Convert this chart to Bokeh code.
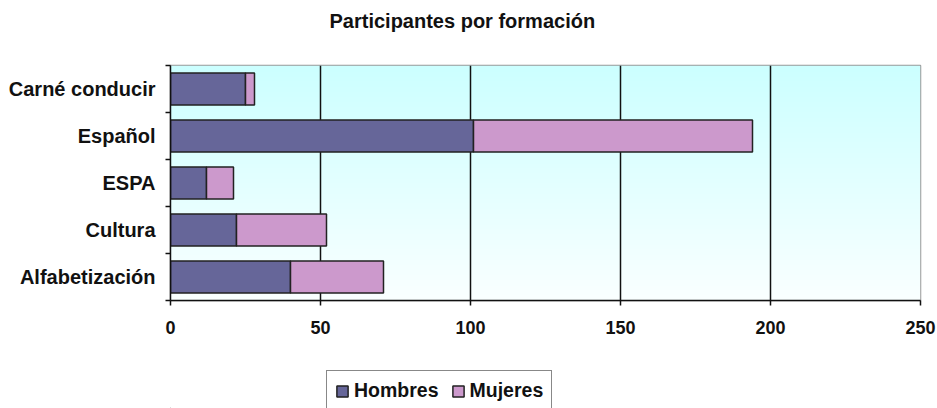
import numpy as np
from bokeh.plotting import figure
from bokeh.layouts import column
from bokeh.models import (ColumnDataSource, FactorRange, Range1d, LinearAxis, CategoricalAxis,
                          FixedTicker, Legend, LegendItem, Title)
from bokeh.embed import file_html
from bokeh.resources import INLINE

# ---- data ----
categories = ["Alfabetización", "Cultura", "ESPA", "Español", "Carné conducir"]
hombres = [40, 22, 12, 101, 25]
mujeres = [31, 30, 9, 93, 3]
series = ["Hombres", "Mujeres"]
colors = ["#666699", "#CC99CC"]
x_ticks = [0, 50, 100, 150, 200, 250]
title_text = "Participantes por formación"

FONT = "Liberation Sans"
INK = "#111111"
BAR_LINE = "#222222"


def blank_figure(height):
    f = figure(width=937, height=height, output_backend="svg", toolbar_location=None,
               x_axis_location=None, y_axis_location=None, x_range=Range1d(0, 1), y_range=Range1d(0, 1),
               min_border_left=0, min_border_right=0, min_border_top=0, min_border_bottom=0)
    f.outline_line_color = None
    f.xgrid.visible = False
    f.ygrid.visible = False
    return f


# ---- title strip ----
tf = blank_figure(40)
tf.title = Title(text=title_text, align="left", offset=159, standoff=14,
                 text_font=FONT, text_font_size="20px", text_font_style="bold", text_color=INK)

# ---- main chart ----
source = ColumnDataSource(dict(cat=categories, Hombres=hombres, Mujeres=mujeres))

p = figure(width=937, height=320, y_range=FactorRange(*categories),
           x_range=Range1d(x_ticks[0], x_ticks[-1]), y_axis_location=None,
           output_backend="svg", toolbar_location=None,
           min_border_left=170, min_border_right=17, min_border_top=25, min_border_bottom=60)

n_cat = len(categories)

# gradient background (synthetic numeric coordinates of the factor range: 0..n_cat)
n = 200
img = np.empty((n, 1), dtype=np.uint32)
view = img.view(dtype=np.uint8).reshape((n, 1, 4))
t = np.linspace(0, 1, n)  # 0 bottom -> 1 top
view[:, 0, 0] = (250 - (250 - 204) * t).astype(np.uint8)
view[:, 0, 1] = 255
view[:, 0, 2] = 255
view[:, 0, 3] = 255
p.image_rgba(image=[img], x=x_ticks[0], y=0, dw=x_ticks[-1] - x_ticks[0], dh=n_cat, level="image")

# axes on the left: boundary ticks first (nearest), then category labels
boundaries = list(range(n_cat + 1))
tick_axis = LinearAxis(ticker=FixedTicker(ticks=boundaries),
                       major_label_overrides={b: "" for b in boundaries},
                       major_label_standoff=0,
                       major_tick_out=5, major_tick_in=0, minor_tick_out=0, minor_tick_in=0,
                       axis_line_color=INK, axis_line_width=1.5,
                       major_tick_line_color=INK, major_tick_line_width=1.5)
p.add_layout(tick_axis, "left")
cat_axis = CategoricalAxis(major_tick_line_color=None, axis_line_color=None,
                           major_label_text_font=FONT, major_label_text_font_size="20px",
                           major_label_text_font_style="bold", major_label_text_color=INK,
                           major_label_standoff=10, major_tick_out=0, major_tick_in=0)
p.add_layout(cat_axis, "left")

# x axis
p.xaxis.ticker = FixedTicker(ticks=x_ticks)
p.xaxis.major_label_text_font = FONT
p.xaxis.major_label_text_font_size = "18px"
p.xaxis.major_label_text_font_style = "bold"
p.xaxis.major_label_text_color = INK
p.xaxis.major_tick_out = 5
p.xaxis.major_tick_in = 0
p.xaxis.minor_tick_line_color = None
p.xaxis.axis_line_color = INK
p.xaxis.axis_line_width = 1.5
p.xaxis.major_tick_line_color = INK
p.xaxis.major_tick_line_width = 1.5
p.xaxis.major_label_standoff = 15

p.xgrid.ticker = FixedTicker(ticks=x_ticks[1:-1])
p.xgrid.grid_line_color = INK
p.xgrid.grid_line_width = 1.5
p.ygrid.visible = False

p.outline_line_color = "#999999"
p.outline_line_width = 1.5
p.background_fill_color = "white"

p.hbar_stack(series, y="cat", height=0.68, color=colors, source=source,
             line_color=BAR_LINE, line_width=1.5)

# ---- legend strip (proxy glyphs lie far outside the strip's visible range) ----
lf = blank_figure(48)
proxies = [lf.hbar(y=[-50], left=[-50], right=[-49], height=0.5, fill_color=c,
                   line_color=BAR_LINE, line_width=1.5)
           for c in colors]
legend = Legend(items=[LegendItem(label=s, renderers=[r]) for s, r in zip(series, proxies)],
                location=(156, -3), orientation="horizontal",
                label_text_font=FONT, label_text_font_size="19.5px", label_text_font_style="bold",
                label_text_color=INK, glyph_width=14, glyph_height=14, label_standoff=5,
                spacing=12, padding=8, margin=0, border_line_color=INK, border_line_width=1.5,
                background_fill_color="white", background_fill_alpha=1.0)
lf.add_layout(legend, "center")

layout = column(tf, p, lf, spacing=0)
open("out.html", "w").write(file_html(layout, INLINE))
